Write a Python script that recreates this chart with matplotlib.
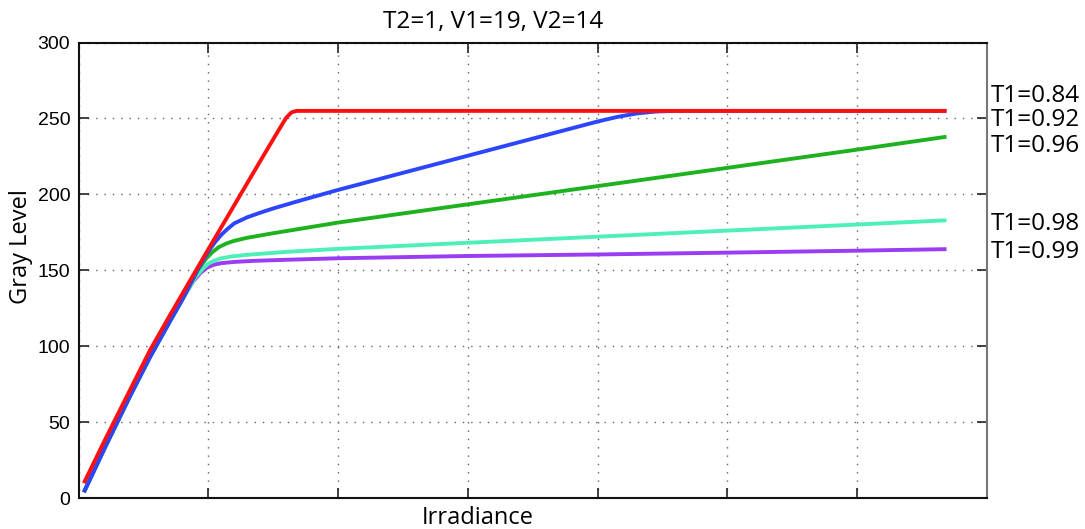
import matplotlib
matplotlib.use("Agg")
import matplotlib.pyplot as plt

# Sensor response curves: gray level vs. irradiance for several T1 settings
red_x = [0.04, 0.2, 0.4, 0.55, 0.7, 0.85, 1.0, 1.2, 1.4, 1.55, 1.6, 1.64, 1.68, 1.75, 3.0, 5.0, 6.69]
red_y = [10, 38, 72, 97.5, 120, 142, 164, 193, 222, 243.5, 250.5, 254, 255, 255, 255, 255, 255]

blue_x = [0.04, 0.2, 0.4, 0.55, 0.7, 0.8, 0.92, 1.0, 1.05, 1.1, 1.15, 1.2, 1.3, 1.4, 1.5, 1.7, 2.0, 3.0, 4.0, 4.15, 4.3, 4.45, 4.6, 5.0, 6.69]
blue_y = [4, 33, 68, 93, 116, 131, 151, 162.5, 168.5, 173.5, 177.5, 181, 185, 188, 190.8, 195.8, 203, 225.5, 248, 251, 253.3, 254.6, 255, 255, 255]

green_x = [0.04, 0.2, 0.4, 0.55, 0.7, 0.8, 0.92, 0.98, 1.03, 1.08, 1.14, 1.2, 1.3, 1.5, 2.0, 3.0, 4.0, 5.0, 6.0, 6.69]
green_y = [4, 33, 68, 93, 116, 131, 150.5, 157.5, 162, 165.3, 167.8, 169.5, 171.5, 174.5, 181.5, 193.5, 205.5, 217.5, 229.5, 238]

cyan_x = [0.04, 0.2, 0.4, 0.55, 0.7, 0.8, 0.9, 0.96, 1.0, 1.05, 1.1, 1.18, 1.3, 1.6, 2.0, 3.0, 4.0, 5.0, 6.0, 6.69]
cyan_y = [4, 33, 68, 93, 116, 131, 145.5, 151.5, 154.5, 156.6, 158, 159.2, 160.3, 162.2, 164.2, 168.2, 172.2, 176.2, 180.2, 183]

purple_x = [0.04, 0.2, 0.4, 0.55, 0.7, 0.8, 0.88, 0.94, 0.99, 1.04, 1.1, 1.2, 1.35, 1.6, 2.0, 3.0, 4.0, 5.0, 6.0, 6.69]
purple_y = [4, 33, 68, 93, 116, 131, 142.5, 148.5, 151.8, 153.7, 154.8, 155.6, 156.3, 157, 158, 159.5, 160.5, 161.7, 163, 164]

series_labels = ["T1=0.84", "T1=0.92", "T1=0.96", "T1=0.98", "T1=0.99"]
label_y = [264.6, 248.7, 231.6, 180.7, 162.4]

y_ticks = [0, 50, 100, 150, 200, 250, 300]
x_ticks = [0, 1, 2, 3, 4, 5, 6, 7]

title_text = "T2=1, V1=19, V2=14"
x_label = "Irradiance"
y_label = "Gray Level"

colors = ["#ff1010", "#2c46ff", "#1fb21f", "#4cf0b8", "#9a3cf2"]

text_font = ["Open Sans", "DejaVu Sans"]
tick_font = ["Liberation Sans", "DejaVu Sans"]

fig = plt.figure(figsize=(10.85, 5.29), dpi=100)
ax = fig.add_axes([0.0725, 0.058, 0.8369, 0.8616])

curves = [(red_x, red_y), (blue_x, blue_y), (green_x, green_y),
          (cyan_x, cyan_y), (purple_x, purple_y)]
# draw the flatter curves first so red stays on top
for (xs, ys), c in list(zip(curves, colors))[::-1]:
    ax.plot(xs, ys, color=c, lw=2.8, solid_capstyle="butt",
            solid_joinstyle="round", zorder=3)

ax.set_xlim(0, 7)
ax.set_ylim(0, 300)
ax.set_xticks(x_ticks)
ax.set_xticklabels([])
ax.set_yticks(y_ticks)
ax.set_yticklabels([str(v) for v in y_ticks], family=tick_font, fontsize=14)

ax.tick_params(direction="in", length=7, width=1.2, top=True, right=True,
               color="#222222", pad=6)
ax.grid(True, linestyle=(0, (1, 5)), color="#5a6666", lw=1.0)
for side, sp in ax.spines.items():
    sp.set_linewidth(1.5)
    sp.set_color("#111111" if side in ("left", "bottom", "top") else "#777777")

for lbl, yv in zip(series_labels, label_y):
    ax.text(7.03, yv, lbl, ha="left", va="center", fontsize=17.5,
            family=text_font, clip_on=False)

fig.text(493 / 1085, 1 - 22 / 529, title_text, ha="center", va="center",
         fontsize=17.5, family=text_font)
fig.text(478 / 1085, 1 - 518 / 529, x_label, ha="center", va="center",
         fontsize=17, family=text_font)
fig.text(21 / 1085, 1 - 247 / 529, y_label, ha="center", va="center",
         rotation=90, fontsize=17, family=text_font)

fig.savefig("out.png", dpi=100)
